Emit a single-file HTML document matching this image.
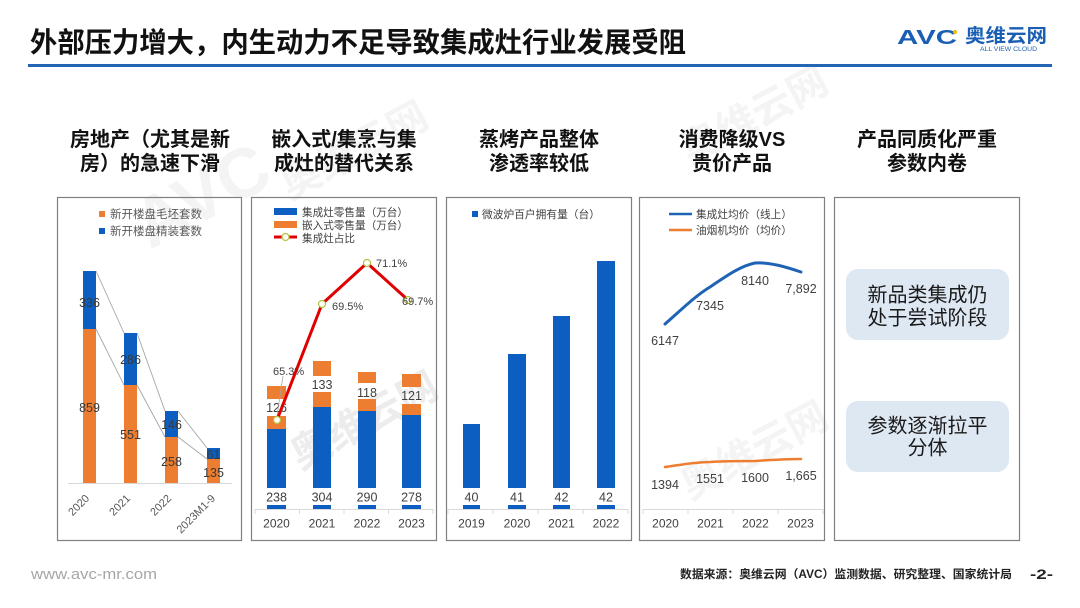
<!DOCTYPE html>
<html><head><meta charset="utf-8"><style>
html,body{margin:0;padding:0;background:#fff;}
svg{display:block;}
text{font-family:"Liberation Sans","Noto Sans CJK SC",sans-serif;}
</style></head><body>
<svg width="1080" height="608" viewBox="0 0 1080 608" xmlns="http://www.w3.org/2000/svg">
<rect width="1080" height="608" fill="#fff"/>
<!-- watermarks -->
<g fill="#f4f4f4" font-weight="bold">
<text x="0" y="0" font-size="70" transform="translate(150,250) rotate(-28)">AVC</text>
<text x="0" y="0" font-size="40" transform="translate(290,200) rotate(-28)">奥维云网</text>
<text x="0" y="0" font-size="40" transform="translate(690,165) rotate(-28)">奥维云网</text>
<text x="0" y="0" font-size="40" transform="translate(300,470) rotate(-28)" fill="#ececec">奥维云网</text>
<text x="0" y="0" font-size="40" transform="translate(690,500) rotate(-28)">奥维云网</text>
</g>
<!-- header -->
<text x="30" y="52" font-size="28" font-weight="bold" fill="#111" textLength="656" lengthAdjust="spacingAndGlyphs">外部压力增大，内生动力不足导致集成灶行业发展受阻</text>
<rect x="28" y="64" width="1024" height="3" fill="#2266b3"/>
<text x="897" y="44" font-size="20" font-weight="900" fill="#1a5fb4" textLength="60" lengthAdjust="spacingAndGlyphs">AVC</text>
<circle cx="955" cy="32" r="2" fill="#f5b800"/>
<text x="965" y="42" font-size="19" font-weight="bold" fill="#1a5fb4" textLength="82" lengthAdjust="spacingAndGlyphs">奥维云网</text>
<text x="980" y="51" font-size="6" fill="#1a5fb4" textLength="57" lengthAdjust="spacingAndGlyphs">ALL VIEW CLOUD</text>

<!-- section titles -->
<g font-size="20" font-weight="bold" fill="#111" text-anchor="middle">
<text x="150" y="146">房地产（尤其是新</text>
<text x="150" y="170">房）的急速下滑</text>
<text x="344" y="146">嵌入式/集烹与集</text>
<text x="344" y="170">成灶的替代关系</text>
<text x="539" y="146">蒸烤产品整体</text>
<text x="539" y="170">渗透率较低</text>
<text x="732" y="146">消费降级VS</text>
<text x="732" y="170">贵价产品</text>
<text x="927" y="146">产品同质化严重</text>
<text x="927" y="170">参数内卷</text>
</g>

<!-- panel boxes -->
<g fill="none" stroke="#808080" stroke-width="1.2">
<rect x="57.5" y="197.5" width="184" height="343"/>
<rect x="251.5" y="197.5" width="185" height="343"/>
<rect x="446.5" y="197.5" width="185" height="343"/>
<rect x="639.5" y="197.5" width="185" height="343"/>
<rect x="834.5" y="197.5" width="185" height="343"/>
</g>

<!-- PANEL 1 -->
<rect x="99" y="211" width="6" height="6" fill="#ed7d31"/>
<rect x="99" y="228" width="6" height="6" fill="#0c5fc0"/>
<g font-size="11.5" fill="#595959">
<text x="110" y="218" textLength="92" lengthAdjust="spacingAndGlyphs">新开楼盘毛坯套数</text>
<text x="110" y="235" textLength="92" lengthAdjust="spacingAndGlyphs">新开楼盘精装套数</text>
</g>
<line x1="68" y1="483.5" x2="232" y2="483.5" stroke="#d9d9d9" stroke-width="1"/>
<g stroke="#a6a6a6" stroke-width="0.9">
<line x1="96" y1="271" x2="124" y2="333"/>
<line x1="137" y1="333" x2="165" y2="411"/>
<line x1="178" y1="411" x2="207" y2="448"/>
<line x1="96" y1="329" x2="124" y2="385"/>
<line x1="137" y1="385" x2="165" y2="437"/>
<line x1="178" y1="437" x2="207" y2="459"/>
</g>
<g fill="#0c5fc0">
<rect x="83" y="271" width="13" height="58"/>
<rect x="124" y="333" width="13" height="52"/>
<rect x="165" y="411" width="13" height="26"/>
<rect x="207" y="448" width="13" height="11"/>
</g>
<g fill="#ed7d31">
<rect x="83" y="329" width="13" height="154"/>
<rect x="124" y="385" width="13" height="98"/>
<rect x="165" y="437" width="13" height="46"/>
<rect x="207" y="459" width="13" height="24"/>
</g>
<g font-size="12.5" fill="#3a3a3a" text-anchor="middle">
<text x="89.5" y="307">336</text>
<text x="89.5" y="412">859</text>
<text x="130.5" y="364">286</text>
<text x="130.5" y="439">551</text>
<text x="171.5" y="429">146</text>
<text x="171.5" y="466">258</text>
<text x="213.5" y="459">61</text>
<text x="213.5" y="477">135</text>
</g>
<g font-size="11" fill="#595959" text-anchor="end">
<text transform="translate(90,499) rotate(-45)">2020</text>
<text transform="translate(131,499) rotate(-45)">2021</text>
<text transform="translate(172,499) rotate(-45)">2022</text>
<text transform="translate(216,499) rotate(-45)">2023M1-9</text>
</g>

<!-- PANEL 2 -->
<rect x="274" y="208" width="23" height="7" fill="#0c5fc0"/>
<rect x="274" y="221" width="23" height="7" fill="#ed7d31"/>
<line x1="274" y1="237" x2="297" y2="237" stroke="#e00000" stroke-width="3"/>
<circle cx="285.5" cy="237" r="3.5" fill="#fff" stroke="#b5c340" stroke-width="1.2"/>
<g font-size="10.6" fill="#404040">
<text x="302" y="216" textLength="106" lengthAdjust="spacingAndGlyphs">集成灶零售量（万台）</text>
<text x="302" y="229" textLength="106" lengthAdjust="spacingAndGlyphs">嵌入式零售量（万台）</text>
<text x="302" y="242" textLength="53" lengthAdjust="spacingAndGlyphs">集成灶占比</text>
</g>
<line x1="255" y1="509.5" x2="433" y2="509.5" stroke="#d9d9d9"/>
<g stroke="#d9d9d9"><line x1="255" y1="509" x2="255" y2="514"/><line x1="299.5" y1="509" x2="299.5" y2="514"/><line x1="344" y1="509" x2="344" y2="514"/><line x1="388.5" y1="509" x2="388.5" y2="514"/><line x1="433" y1="509" x2="433" y2="514"/></g>
<g fill="#0c5fc0">
<rect x="267" y="429" width="19" height="59"/><rect x="267" y="505" width="19" height="4"/>
<rect x="313" y="407" width="18" height="81"/><rect x="313" y="505" width="18" height="4"/>
<rect x="358" y="411" width="18" height="77"/><rect x="358" y="505" width="18" height="4"/>
<rect x="402" y="415" width="19" height="73"/><rect x="402" y="505" width="19" height="4"/>
</g>
<g fill="#ed7d31">
<rect x="267" y="386" width="19" height="13"/><rect x="267" y="416" width="19" height="13"/>
<rect x="313" y="361" width="18" height="15"/><rect x="313" y="392" width="18" height="15"/>
<rect x="358" y="372" width="18" height="11"/><rect x="358" y="399" width="18" height="12"/>
<rect x="402" y="374" width="19" height="13"/><rect x="402" y="404" width="19" height="11"/>
</g>
<g font-size="12.5" fill="#404040" text-anchor="middle">
<text x="276.5" y="501.5">238</text><text x="322" y="501.5">304</text><text x="367" y="501.5">290</text><text x="411.5" y="501.5">278</text>
<text x="276.5" y="412">126</text><text x="322" y="389">133</text><text x="367" y="397">118</text><text x="411.5" y="400">121</text>
</g>
<line x1="283" y1="376" x2="277" y2="416" stroke="#a6a6a6" stroke-width="0.8"/>
<polyline points="277,420 322,304 367,263 408,300" fill="none" stroke="#e00000" stroke-width="3" stroke-linejoin="round"/>
<g fill="#fff" stroke="#b5c340" stroke-width="1.2">
<circle cx="277" cy="420" r="3.5"/><circle cx="322" cy="304" r="3.5"/><circle cx="367" cy="263" r="3.5"/><circle cx="408" cy="300" r="3.5"/>
</g>
<g font-size="11" fill="#404040">
<text x="273" y="375">65.3%</text>
<text x="332" y="310">69.5%</text>
<text x="376" y="267">71.1%</text>
<text x="402" y="305">69.7%</text>
</g>

<!-- PANEL 3 -->
<rect x="472" y="211" width="6" height="6" fill="#0c5fc0"/>
<text x="482" y="218" font-size="10.7" fill="#404040" textLength="118" lengthAdjust="spacingAndGlyphs">微波炉百户拥有量（台）</text>
<line x1="448" y1="509.5" x2="628" y2="509.5" stroke="#d9d9d9"/>
<g stroke="#d9d9d9"><line x1="448" y1="509" x2="448" y2="514"/><line x1="493" y1="509" x2="493" y2="514"/><line x1="538" y1="509" x2="538" y2="514"/><line x1="583" y1="509" x2="583" y2="514"/><line x1="628" y1="509" x2="628" y2="514"/></g>
<g fill="#0c5fc0">
<rect x="463" y="424" width="17" height="64"/><rect x="463" y="505" width="17" height="4"/>
<rect x="508" y="354" width="18" height="134"/><rect x="508" y="505" width="18" height="4"/>
<rect x="553" y="316" width="17" height="172"/><rect x="553" y="505" width="17" height="4"/>
<rect x="597" y="261" width="18" height="227"/><rect x="597" y="505" width="18" height="4"/>
</g>
<g font-size="12.5" fill="#404040" text-anchor="middle">
<text x="471.5" y="501.5">40</text><text x="517" y="501.5">41</text><text x="561.5" y="501.5">42</text><text x="606" y="501.5">42</text>
</g>

<!-- PANEL 4 -->
<line x1="669" y1="214" x2="692" y2="214" stroke="#1f63b5" stroke-width="2.5"/>
<line x1="669" y1="230" x2="692" y2="230" stroke="#ed7d31" stroke-width="2.5"/>
<g font-size="10.7" fill="#404040">
<text x="696" y="218" textLength="96" lengthAdjust="spacingAndGlyphs">集成灶均价（线上）</text>
<text x="696" y="234" textLength="96" lengthAdjust="spacingAndGlyphs">油烟机均价（均价）</text>
</g>
<line x1="643" y1="509.5" x2="823" y2="509.5" stroke="#d9d9d9"/>
<g stroke="#d9d9d9"><line x1="643" y1="509" x2="643" y2="514"/><line x1="688" y1="509" x2="688" y2="514"/><line x1="733" y1="509" x2="733" y2="514"/><line x1="778" y1="509" x2="778" y2="514"/><line x1="823" y1="509" x2="823" y2="514"/></g>
<path d="M665,324 C680,311 695,296 710,287 C725,277 740,266 755,263 C770,262 786,267 801,272" fill="none" stroke="#1f63b5" stroke-width="3" stroke-linecap="round"/>
<path d="M665,467 C680,465 695,462 710,462 C725,461 740,461 755,461 C770,460 786,459 801,459" fill="none" stroke="#ed7d31" stroke-width="2.5" stroke-linecap="round"/>
<g font-size="12.5" fill="#404040" text-anchor="middle">
<text x="665" y="345">6147</text>
<text x="710" y="310">7345</text>
<text x="755" y="285">8140</text>
<text x="801" y="293">7,892</text>
<text x="665" y="489">1394</text>
<text x="710" y="483">1551</text>
<text x="755" y="482">1600</text>
<text x="801" y="480">1,665</text>
</g>

<!-- year labels -->
<g font-size="12" fill="#404040" text-anchor="middle">
<text x="276.5" y="527.5">2020</text><text x="322" y="527.5">2021</text><text x="367" y="527.5">2022</text><text x="411.5" y="527.5">2023</text>
<text x="471.5" y="527.5">2019</text><text x="517" y="527.5">2020</text><text x="561.5" y="527.5">2021</text><text x="606" y="527.5">2022</text>
<text x="665.5" y="527.5">2020</text><text x="710.5" y="527.5">2021</text><text x="755.5" y="527.5">2022</text><text x="800.5" y="527.5">2023</text>
</g>

<!-- PANEL 5 -->
<rect x="846" y="269" width="163" height="71" rx="12" fill="#dee8f3"/>
<rect x="846" y="401" width="163" height="71" rx="12" fill="#dee8f3"/>
<g font-size="20" fill="#1a1a1a" text-anchor="middle">
<text x="927.5" y="301.5">新品类集成仍</text>
<text x="927.5" y="324.5">处于尝试阶段</text>
<text x="927.5" y="432.5">参数逐渐拉平</text>
<text x="927.5" y="454.5">分体</text>
</g>

<!-- footer -->
<text x="31" y="579" font-size="14.5" fill="#a6a6a6" textLength="126" lengthAdjust="spacingAndGlyphs">www.avc-mr.com</text>
<text x="680" y="578" font-size="11.5" font-weight="bold" fill="#222" textLength="332" lengthAdjust="spacingAndGlyphs">数据来源：奥维云网（AVC）监测数据、研究整理、国家统计局</text>
<text x="1030" y="579" font-size="14" font-weight="bold" fill="#222" textLength="23" lengthAdjust="spacingAndGlyphs">-2-</text>
</svg>
</body></html>
